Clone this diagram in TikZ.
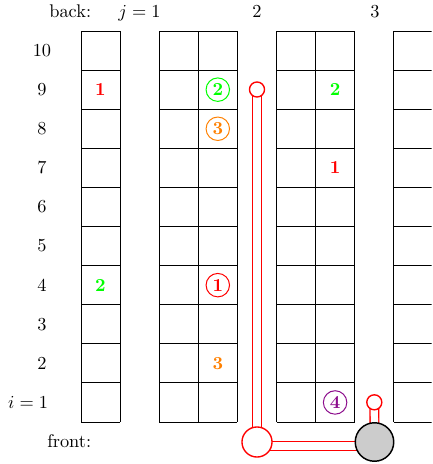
\documentclass[tikz,border=0pt]{standalone}
\usetikzlibrary{backgrounds}
\definecolor{mypurple}{rgb}{0.55,0.05,0.55}
\begin{document}
\begin{tikzpicture}[x=0.5455pt,y=-0.5455pt,
  gridline/.style={line width=0.5pt},
  lbl/.style={inner sep=0pt},
  num/.style={inner sep=0pt,font=\bfseries},
  cnum/.style={circle,draw,line width=0.55pt,inner sep=0pt,minimum size=12.8pt,font=\bfseries},
  pipe/.style={draw=red,line width=0.75pt,double=white,double distance=3.95pt},
  tap/.style={circle,draw=red,fill=white,line width=0.75pt,inner sep=0pt,minimum size=8.2pt},
  bigtap/.style={circle,draw=red,fill=white,line width=0.75pt,inner sep=0pt,minimum size=16.4pt},
  pump/.style={circle,draw=black,fill=black!20,line width=0.8pt,inner sep=0pt,minimum size=21pt}]
\useasboundingbox (0,0) rectangle (432,464);
% grid
\begin{scope}
\clip (0,0) rectangle (431.5,464);
\foreach \xl/\n in {81/1,159.2/2,276.5/2,393.8/2}{
  \foreach \k in {0,...,10}
    \draw[gridline] (\xl,{31+39.1*\k}) -- ({\xl+39.1*\n},{31+39.1*\k});
  \foreach \c in {0,...,\n}
    \draw[gridline] ({\xl+39.1*\c},31) -- ({\xl+39.1*\c},422);
}
\end{scope}
% top and side labels
\node[lbl,anchor=base east] (back) at (91.5,17.5) {back:};
\node[lbl,anchor=base] (j1) at (139.5,17.5) {$j=1$};
\node[lbl,anchor=base] (j2) at (257,17.5) {2};
\node[lbl,anchor=base] (j3) at (375,17.5) {3};
\node[lbl,anchor=base east] (front) at (91.5,447) {front:};
\foreach \r in {2,...,10}
  \node[lbl] (row\r) at (42,{422-39.1*(\r-0.5)}) {\r};
\node[lbl,anchor=east] (row1) at (48.5,402.45) {$i=1$};
% cell entries
\node[num,text=red] (a1) at (100.5,89.65) {1};
\node[num,text=green] (a2) at (100.5,285.15) {2};
\node[cnum,draw=green,text=green] (b2) at (217.8,89.65) {2};
\node[cnum,draw=orange,text=orange] (b3) at (217.8,128.75) {3};
\node[cnum,draw=red,text=red] (b1) at (217.8,285.15) {1};
\node[num,text=orange] (b3f) at (217.8,363.35) {3};
\node[num,text=green] (c2) at (335.1,89.65) {2};
\node[num,text=red] (c1) at (335.1,167.85) {1};
\node[cnum,draw=mypurple,text=mypurple] (c4) at (335.1,402.45) {4};
% pipes
\node[tap] (t1) at (257,89.5) {};
\node[bigtap] (t2) at (257,442) {};
\node[pump] (p) at (374.5,442) {};
\node[tap] (t3) at (374.3,402.3) {};
\begin{scope}[on background layer]
\draw[pipe] (t1.center) -- (t2.center);
\draw[pipe] ([yshift=-2.2pt]t2.center) -- ([yshift=-2.2pt]p.center);
\draw[pipe] (t3.center) -- (p.center);
\end{scope}
\end{tikzpicture}
\end{document}
